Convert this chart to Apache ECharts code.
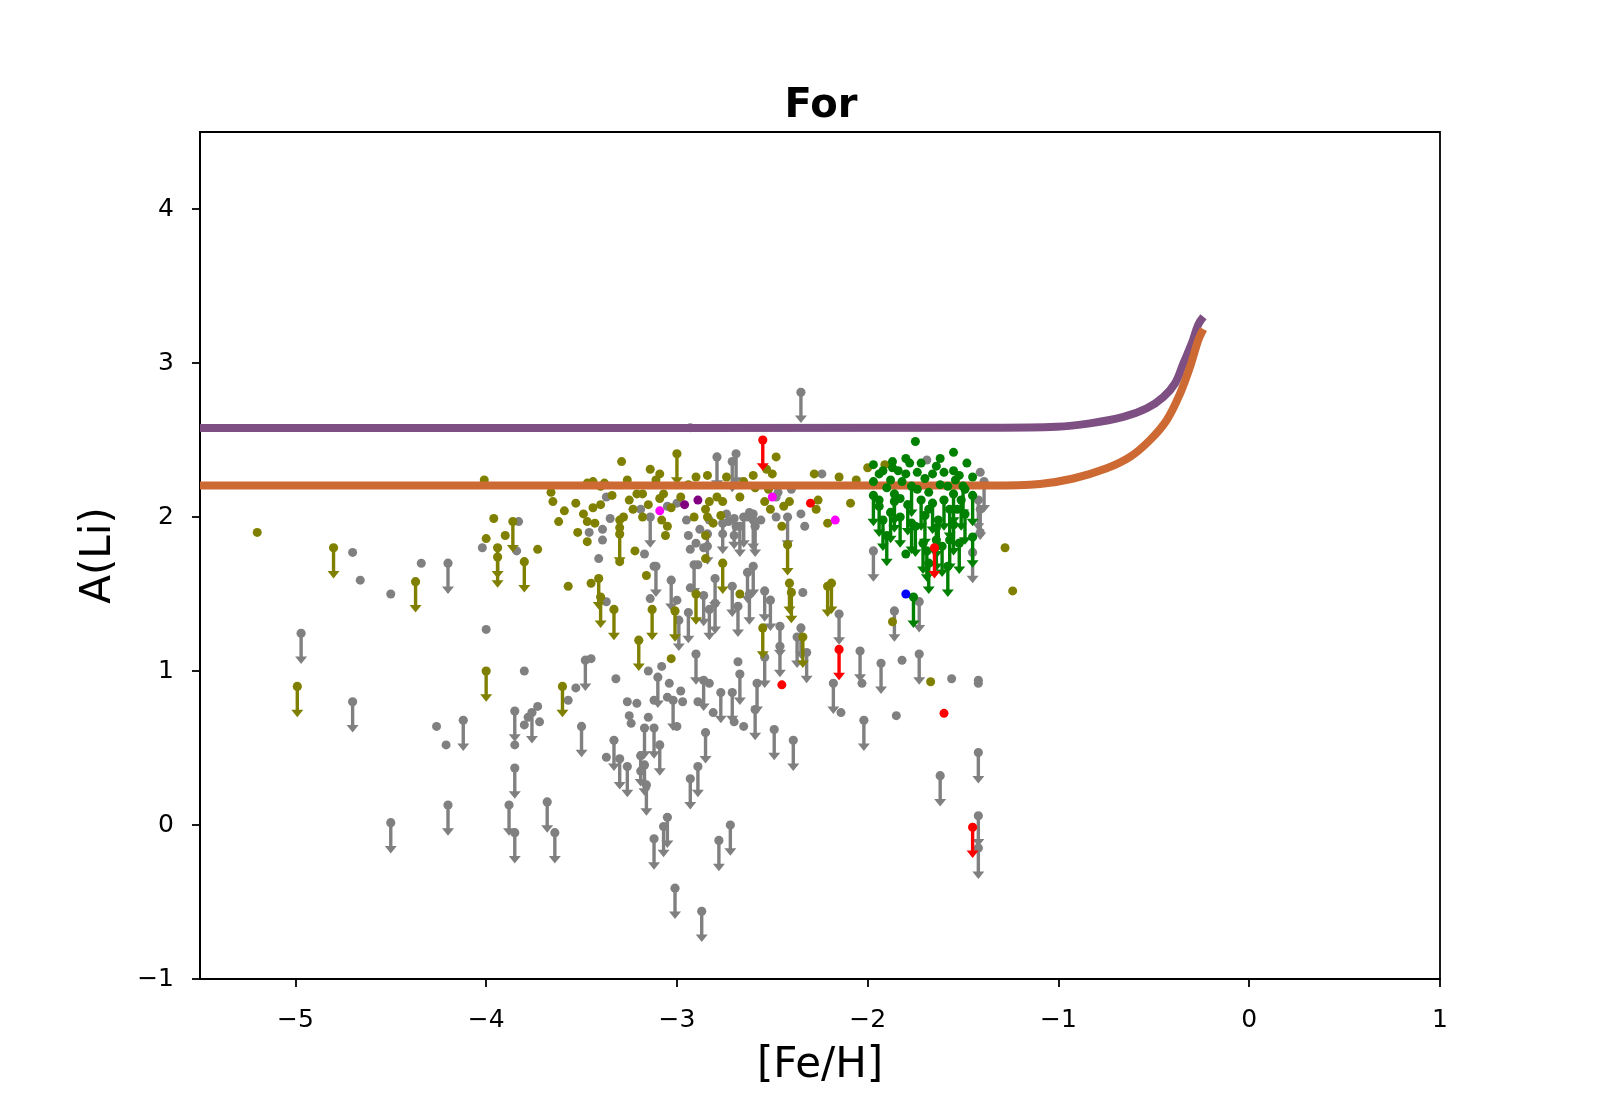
<!DOCTYPE html>
<html>
<head>
<meta charset="utf-8">
<script src="https://cdn.jsdelivr.net/npm/echarts@6/dist/echarts.min.js"></script>
<style>
  html, body { margin: 0; padding: 0; background: #fff; }
  #chart { width: 1600px; height: 1100px; }
</style>
</head>
<body>
<div id="chart"></div>
<script>
// axis ticks
var xTicks = [-5, -4, -3, -2, -1, 0, 1];
var yTicks = [-1, 0, 1, 2, 3, 4];

// [Fe/H], A(Li) measurements
var grayDots = [
  [-4.70, 1.77], [-4.66, 1.59], [-4.50, 1.50], [-4.34, 1.70], [-4.02, 1.80], [-4.00, 1.27],
  [-3.80, 1.00], [-3.53, 0.89], [-3.57, 0.81], [-4.26, 0.64], [-4.21, 0.52], [-3.80, 0.65],
  [-3.73, 0.77], [-3.72, 0.67], [-3.78, 0.70], [-3.85, 0.52],
  [-3.37, 2.13], [-3.35, 1.99], [-3.46, 1.90], [-3.39, 1.92], [-3.39, 1.85], [-3.19, 2.05],
  [-3.41, 1.73], [-3.17, 1.76], [-3.12, 1.68], [-3.83, 1.97], [-3.84, 1.78], [-2.94, 1.88],
  [-2.93, 2.58], [-2.24, 2.28], [-2.33, 1.94], [-2.35, 2.02], [-2.62, 2.03], [-2.73, 1.97],
  [-2.83, 1.98], [-2.88, 1.92], [-2.76, 1.89], [-2.90, 1.83], [-2.84, 1.81], [-2.70, 1.88],
  [-2.69, 1.94], [-2.56, 1.98], [-2.48, 2.00], [-2.47, 2.16], [-2.40, 2.18], [-2.74, 2.02],
  [-2.63, 2.00], [-2.60, 2.02], [-2.93, 1.79], [-2.86, 1.80], [-2.89, 1.69], [-2.48, 2.13],
  [-3.00, 2.09], [-3.05, 2.07], [-2.95, 1.98],
  [-3.45, 1.08], [-3.37, 1.45], [-3.32, 0.95], [-3.15, 1.00], [-3.08, 1.03], [-3.04, 0.92],
  [-3.00, 1.46], [-3.14, 1.47], [-2.93, 1.54], [-3.26, 0.80], [-3.21, 0.79], [-3.12, 0.81],
  [-3.05, 0.83], [-2.98, 0.87], [-3.25, 0.71], [-3.15, 0.70], [-3.37, 0.44], [-3.24, 0.66],
  [-3.19, 0.35], [-2.97, 0.80], [-3.00, 0.64], [-2.89, 0.80], [-2.83, 0.92], [-2.81, 0.73],
  [-2.70, 0.67], [-2.65, 0.64], [-2.68, 1.06], [-2.34, 1.51], [-2.03, 0.92], [-2.14, 0.73],
  [-1.85, 0.71], [-1.56, 0.95], [-1.42, 0.94], [-1.42, 0.92], [-1.82, 1.07], [-1.69, 2.37],
  [-1.41, 2.29], [-1.41, 1.90]
];
var grayLimits = [
  [-4.20, 1.70], [-4.97, 1.245], [-4.70, 0.80], [-4.12, 0.68], [-3.85, 0.74], [-3.76, 0.73],
  [-3.85, 0.37], [-4.20, 0.13], [-4.50, 0.015], [-3.88, 0.13], [-3.85, -0.05], [-3.68, 0.15],
  [-3.64, -0.05], [-3.14, 2.00], [-2.91, 1.69], [-2.79, 2.39], [-2.69, 2.41], [-2.71, 2.36],
  [-2.42, 2.00], [-1.97, 1.78], [-2.60, 1.98], [-2.65, 2.00], [-2.76, 1.96], [-2.70, 1.99],
  [-2.67, 1.94], [-2.59, 1.94], [-2.84, 1.89], [-2.35, 2.81], [-1.39, 2.23], [-1.42, 2.11],
  [-1.41, 2.05], [-1.45, 1.77],
  [-3.48, 1.07], [-3.10, 0.96], [-2.99, 1.33], [-2.94, 1.38], [-2.90, 1.11], [-3.11, 1.68],
  [-3.03, 1.59], [-3.50, 0.64], [-3.33, 0.55], [-3.30, 0.43], [-3.26, 0.38], [-3.17, 0.63],
  [-3.12, 0.63], [-3.09, 0.52], [-3.19, 0.45], [-3.17, 0.39], [-3.16, 0.26], [-3.02, 0.81],
  [-2.86, 0.94], [-2.77, 0.86], [-2.71, 0.86], [-2.67, 0.98], [-2.58, 0.92], [-2.59, 0.75],
  [-2.54, 1.09], [-2.46, 1.16], [-2.49, 0.62], [-2.39, 0.55], [-2.32, 1.12], [-2.85, 0.60],
  [-2.89, 0.38], [-2.93, 0.30], [-3.05, 0.05], [-3.07, -0.01], [-3.12, -0.09], [-2.72, 0.00],
  [-2.78, -0.10], [-3.01, -0.41], [-2.87, -0.56],
  [-2.80, 1.60], [-2.71, 1.55], [-2.63, 1.64], [-2.60, 1.68], [-2.62, 1.50], [-2.54, 1.52],
  [-2.51, 1.46], [-2.86, 1.49], [-2.83, 1.40], [-2.80, 1.44], [-2.68, 1.42], [-2.46, 1.29],
  [-2.35, 1.28], [-2.37, 1.22], [-2.15, 1.37], [-2.04, 1.13], [-1.93, 1.05], [-1.73, 1.11],
  [-1.86, 1.39], [-1.73, 1.45], [-2.18, 0.92], [-2.02, 0.68],
  [-1.42, 0.47], [-1.62, 0.32], [-1.42, 0.06], [-1.42, -0.15]
];
var oliveDots = [
  [-5.20, 1.90], [-4.01, 2.24], [-4.00, 1.86], [-3.96, 1.99], [-3.90, 1.88], [-3.73, 1.79],
  [-3.29, 2.36], [-3.14, 2.31], [-3.66, 2.16], [-3.65, 2.10], [-3.53, 2.09], [-3.59, 2.04],
  [-3.62, 1.97], [-3.49, 2.02], [-3.44, 2.23], [-3.38, 2.22], [-3.44, 2.06], [-3.40, 2.08],
  [-3.47, 1.97], [-3.52, 1.90], [-3.47, 1.84], [-3.43, 1.96], [-3.34, 2.14], [-3.26, 2.24],
  [-3.25, 2.11], [-3.23, 2.05], [-3.28, 2.00], [-3.30, 1.93], [-3.30, 1.98], [-3.18, 2.00],
  [-3.15, 2.08], [-3.21, 2.15], [-3.11, 2.24], [-3.07, 2.15], [-3.09, 2.12], [-3.03, 2.06],
  [-2.98, 2.13], [-2.94, 2.21], [-3.08, 1.98], [-3.05, 1.94], [-3.06, 1.88], [-2.91, 2.00],
  [-2.90, 2.26], [-3.22, 1.78], [-3.30, 1.71], [-3.16, 1.62], [-3.09, 2.28], [-2.84, 2.27],
  [-2.60, 2.27], [-3.40, 2.20], [-3.47, 2.22], [-3.18, 2.15], [-2.54, 2.10], [-2.84, 2.00],
  [-2.48, 2.39], [-2.53, 2.31], [-2.50, 2.28], [-2.74, 2.26], [-2.65, 2.23], [-2.59, 2.19],
  [-2.52, 2.18], [-2.28, 2.28], [-2.15, 2.26], [-2.06, 2.24], [-2.00, 2.32], [-2.09, 2.09],
  [-2.26, 2.11], [-2.27, 2.05], [-2.21, 1.96], [-2.51, 2.05], [-2.44, 2.07], [-2.41, 2.10],
  [-2.45, 1.94], [-2.79, 2.13], [-2.83, 2.10], [-2.76, 2.10], [-2.67, 2.13], [-2.85, 2.05],
  [-2.77, 2.01], [-2.81, 1.96], [-2.85, 1.88], [-2.85, 1.73], [-1.91, 2.34],
  [-3.57, 1.55], [-3.45, 1.57], [-3.03, 1.08], [-2.67, 1.50], [-1.87, 1.32], [-1.67, 0.93],
  [-1.28, 1.80], [-1.24, 1.52]
];
var oliveLimits = [
  [-4.80, 1.80], [-4.37, 1.58], [-4.99, 0.90], [-4.00, 1.00], [-3.60, 0.90], [-3.00, 2.41],
  [-3.86, 1.97], [-3.94, 1.80], [-3.94, 1.74], [-3.80, 1.71], [-3.30, 1.89], [-2.76, 1.70],
  [-2.42, 1.82], [-3.41, 1.60], [-3.40, 1.48], [-3.33, 1.40], [-3.13, 1.40], [-3.01, 1.39],
  [-3.20, 1.20], [-2.90, 1.50], [-2.41, 1.57], [-2.40, 1.51], [-2.19, 1.57], [-2.21, 1.55],
  [-2.55, 1.28], [-2.34, 1.22]
];
var greenDots = [
  [-1.75, 2.49], [-1.55, 2.42], [-1.62, 2.38], [-1.80, 2.38], [-1.87, 2.36], [-1.97, 2.34],
  [-1.78, 2.35], [-1.72, 2.35], [-1.48, 2.35], [-1.94, 2.28], [-1.87, 2.32], [-1.80, 2.28],
  [-1.74, 2.29], [-1.66, 2.28], [-1.60, 2.29], [-1.55, 2.30], [-1.45, 2.26], [-1.97, 2.23],
  [-1.88, 2.24], [-1.82, 2.23], [-1.54, 2.24], [-1.68, 2.16], [-1.80, 1.76], [-1.62, 2.21],
  [-1.74, 2.18], [-1.49, 2.18], [-1.94, 2.11], [-1.92, 2.30], [-1.84, 2.30], [-1.70, 2.25],
  [-1.58, 2.20], [-1.52, 2.27], [-1.64, 2.33], [-1.90, 2.19], [-1.83, 2.12], [-1.68, 2.05],
  [-1.53, 2.05]
];
var greenLimits = [
  [-1.77, 2.20], [-1.50, 2.20], [-1.97, 2.14], [-1.94, 2.07], [-1.92, 1.98], [-1.90, 1.88],
  [-1.88, 2.03], [-1.86, 2.15], [-1.86, 2.10], [-1.79, 2.08], [-1.77, 1.96], [-1.75, 1.94],
  [-1.72, 2.11], [-1.70, 2.01], [-1.66, 2.09], [-1.63, 1.98], [-1.60, 2.11], [-1.57, 2.05],
  [-1.55, 2.15], [-1.51, 2.11], [-1.49, 2.02], [-1.45, 2.14], [-1.71, 1.83], [-1.64, 1.85],
  [-1.61, 1.81], [-1.57, 1.85], [-1.52, 1.83], [-1.45, 1.87], [-1.68, 1.70], [-1.58, 1.68],
  [-1.76, 1.48], [-1.83, 2.00], [-1.64, 1.93], [-1.55, 1.95], [-1.69, 1.78]
];
var redDots = [[-2.30, 2.09], [-2.45, 0.91], [-1.60, 0.725]];
var redLimits = [[-2.55, 2.50], [-2.15, 1.14], [-1.65, 1.80], [-1.45, -0.015]];
var magentaDots = [[-3.09, 2.04], [-2.17, 1.98], [-2.50, 2.13]];
var purpleDots = [[-2.96, 2.08], [-2.89, 2.11]];
var blueDots = [[-1.80, 1.50]];

// model curves
var purpleCurve = [
  [-5.5, 2.578], [-1.36, 2.58], [-1.01, 2.586], [-0.835, 2.608], [-0.66, 2.65], [-0.537, 2.706],
  [-0.45, 2.78], [-0.389, 2.868], [-0.345, 2.998], [-0.301, 3.128], [-0.267, 3.25], [-0.24, 3.30]
];
var orangeCurve = [
  [-5.5, 2.205], [-1.36, 2.205], [-1.097, 2.215], [-0.922, 2.25], [-0.747, 2.316], [-0.625, 2.39],
  [-0.52, 2.50], [-0.432, 2.63], [-0.363, 2.80], [-0.31, 2.976], [-0.267, 3.149], [-0.24, 3.22]
];

var ARROW_LEN = 0.2;
var FONT = 'DejaVu Sans';

function minusSign(v) {
  return String(v).replace('-', '\u2212');
}

function dotSeries(data, color, z) {
  return {
    type: 'scatter',
    data: data,
    symbol: 'circle',
    symbolSize: 9,
    itemStyle: { color: color, opacity: 1 },
    z: z,
    silent: true
  };
}

// dot with a downward arrow = upper limit
function limitSeries(data, color, z) {
  return {
    type: 'custom',
    data: data,
    z: z,
    silent: true,
    clip: true,
    encode: { x: 0, y: 1 },
    renderItem: function (params, api) {
      var x = api.value(0), y = api.value(1);
      var p = api.coord([x, y]);
      var q = api.coord([x, y - ARROW_LEN]);
      return {
        type: 'group',
        children: [
          { type: 'line', shape: { x1: p[0], y1: p[1], x2: q[0], y2: q[1] - 6 },
            style: { stroke: color, lineWidth: 3.4 } },
          { type: 'polygon', shape: { points: [[q[0] - 6, q[1] - 7.5], [q[0] + 6, q[1] - 7.5], [q[0], q[1]]] },
            style: { fill: color } },
          { type: 'circle', shape: { cx: p[0], cy: p[1], r: 4.6 }, style: { fill: color } }
        ]
      };
    }
  };
}

function curveSeries(data, color, z) {
  return {
    type: 'line',
    data: data,
    smooth: 0.35,
    showSymbol: false,
    lineStyle: { color: color, width: 8, cap: 'butt', join: 'round' },
    z: z,
    silent: true
  };
}

var chart = echarts.init(document.getElementById('chart'));
var option = {
  backgroundColor: '#fff',
  animation: false,
  title: {
    text: 'For',
    left: 816,
    top: 82,
    textAlign: 'center',
    textStyle: { fontFamily: FONT, fontWeight: 'bold', fontSize: 40, color: '#000' }
  },
  grid: {
    left: 200, right: 160, top: 132, bottom: 121,
    show: true, borderColor: '#000', borderWidth: 1.8, backgroundColor: 'transparent'
  },
  xAxis: {
    type: 'value',
    min: -5.5, max: 1,
    name: '[Fe/H]',
    nameLocation: 'middle',
    nameGap: 66,
    nameTextStyle: { fontFamily: FONT, fontSize: 42, color: '#000' },
    splitLine: { show: false },
    axisLine: { show: true, onZero: false, lineStyle: { color: '#000', width: 1.8 } },
    axisTick: { show: true, inside: false, length: 8, customValues: xTicks, lineStyle: { color: '#000', width: 1.8 } },
    axisLabel: { customValues: xTicks, margin: 29, fontFamily: FONT, fontSize: 25, color: '#000', formatter: minusSign }
  },
  yAxis: {
    type: 'value',
    min: -1, max: 4.5,
    name: 'A(Li)',
    nameLocation: 'middle',
    nameGap: 80,
    nameTextStyle: { fontFamily: FONT, fontSize: 42, color: '#000' },
    splitLine: { show: false },
    axisLine: { show: true, onZero: false, lineStyle: { color: '#000', width: 1.8 } },
    axisTick: { show: true, inside: false, length: 8, customValues: yTicks, lineStyle: { color: '#000', width: 1.8 } },
    axisLabel: { customValues: yTicks, margin: 26, fontFamily: FONT, fontSize: 25, color: '#000', formatter: minusSign }
  },
  series: [
    dotSeries(grayDots, '#808080', 2),
    limitSeries(grayLimits, '#808080', 2),
    dotSeries(oliveDots, '#808000', 3),
    limitSeries(oliveLimits, '#808000', 3),
    curveSeries(purpleCurve, '#7d4f83', 4),
    curveSeries(orangeCurve, '#cd6932', 4),
    dotSeries(greenDots, '#008000', 5),
    limitSeries(greenLimits, '#008000', 5),
    dotSeries(redDots, '#ff0000', 6),
    limitSeries(redLimits, '#ff0000', 6),
    dotSeries(magentaDots, '#ff00ff', 6),
    dotSeries(purpleDots, '#800080', 6),
    dotSeries(blueDots, '#0000ff', 6)
  ]
};
chart.setOption(option);
</script>
</body>
</html>
